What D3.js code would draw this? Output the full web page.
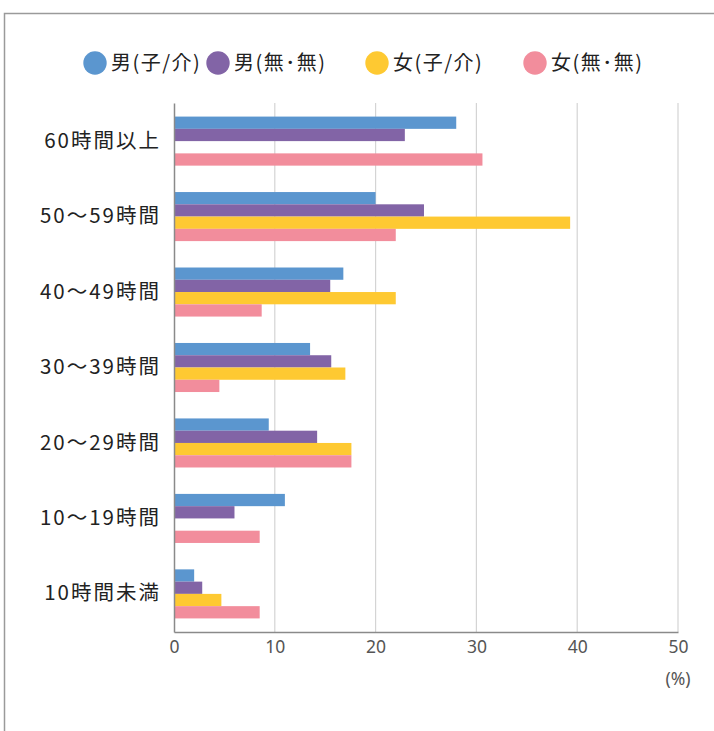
<!DOCTYPE html>
<html>
<head>
<meta charset="utf-8">
<script src="https://cdn.jsdelivr.net/npm/d3@7/dist/d3.min.js"></script>
<style>
  html, body { margin: 0; padding: 0; background: #fff; }
  svg { display: block; }
  text { font-family: "Noto Sans CJK JP", "Noto Sans", sans-serif; }
</style>
</head>
<body>
<svg id="chart" width="714" height="731"></svg>
<script>
// Weekly working hours by group (%)
const categories = ["60時間以上", "50〜59時間", "40〜49時間", "30〜39時間", "20〜29時間", "10〜19時間", "10時間未満"];
const seriesNames = ["男(子/介)", "男(無･無)", "女(子/介)", "女(無･無)"];
const menCare     = [28.0, 20.0, 16.8, 13.5, 9.4, 11.0, 2.0];
const menNone     = [22.9, 24.8, 15.5, 15.6, 14.2, 6.0, 2.8];
const womenCare   = [null, 39.3, 22.0, 17.0, 17.6, null, 4.7];
const womenNone   = [30.6, 22.0, 8.7, 4.5, 17.6, 8.5, 8.5];
const tickValues  = [0, 10, 20, 30, 40, 50];
const colors      = ["#5b96cf", "#8264a6", "#fec932", "#f28d9c"];

const seriesValues = [menCare, menNone, womenCare, womenNone];

const svg = d3.select("#chart");

// outer frame
svg.append("rect")
  .attr("x", 4.5).attr("y", 13.5)
  .attr("width", 760).attr("height", 760)
  .attr("fill", "none")
  .attr("stroke", "#9a9a9a")
  .attr("stroke-width", 1.5);

const plotLeft = 174, plotRight = 678, plotTop = 103, plotBottom = 632;

const x = d3.scaleLinear().domain([0, 50]).range([plotLeft, plotRight]);
const y = d3.scaleBand().domain(categories).range([plotTop, plotBottom]).paddingInner(0.35).paddingOuter(0.18);
const ySub = d3.scaleBand().domain(d3.range(seriesNames.length)).range([0, y.bandwidth()]);

// vertical gridlines
svg.append("g")
  .selectAll("line")
  .data(tickValues.filter(t => t > 0))
  .join("line")
  .attr("x1", d => x(d)).attr("x2", d => x(d))
  .attr("y1", plotTop).attr("y2", plotBottom)
  .attr("stroke", "#d4d4d4")
  .attr("stroke-width", 1.2);

// bars
const groups = svg.append("g")
  .selectAll("g")
  .data(categories)
  .join("g")
  .attr("transform", d => `translate(0,${y(d)})`);

groups.selectAll("rect")
  .data((c, i) => seriesValues.map((vals, s) => ({ s, v: vals[i] })).filter(d => d.v != null))
  .join("rect")
  .attr("x", x(0))
  .attr("y", d => ySub(d.s))
  .attr("width", d => x(d.v) - x(0))
  .attr("height", ySub.bandwidth())
  .attr("fill", d => colors[d.s]);

// x axis
const xAxis = d3.axisBottom(x).tickValues(tickValues).tickSize(0).tickPadding(9);
const gx = svg.append("g").attr("transform", `translate(0,${plotBottom})`).call(xAxis);
gx.select(".domain").attr("stroke", "#8a8a8a").attr("stroke-width", 1.5);
gx.selectAll("text")
  .attr("fill", "#555")
  .attr("font-size", 17.5)
  .style("font-family", "'Noto Sans', sans-serif");

svg.append("text")
  .attr("x", x(50)).attr("y", 685)
  .attr("text-anchor", "middle")
  .attr("fill", "#555")
  .attr("font-size", 17.5)
  .style("font-family", "'Noto Sans', sans-serif")
  .text("(%)");

// y axis
const yAxis = d3.axisLeft(y).tickSize(0).tickPadding(13);
const gy = svg.append("g").attr("transform", `translate(${plotLeft},0)`).call(yAxis);
gy.select(".domain").attr("stroke", "#8a8a8a").attr("stroke-width", 1.5);
gy.selectAll("text")
  .attr("fill", "#222")
  .attr("font-size", 20.5)
  .attr("letter-spacing", 2)
  .style("font-family", "'Noto Sans CJK JP', sans-serif");

// legend
const legendX = [95, 218, 377, 535];
const legend = svg.append("g")
  .selectAll("g")
  .data(seriesNames)
  .join("g")
  .attr("transform", (d, i) => `translate(${legendX[i]},63)`);
legend.append("circle").attr("r", 11.7).attr("fill", (d, i) => colors[i]);
legend.append("text")
  .attr("x", 16)
  .attr("dy", "0.36em")
  .attr("fill", "#222")
  .attr("font-size", 20)
  .attr("letter-spacing", 1.5)
  .text(d => d);
</script>
</body>
</html>
